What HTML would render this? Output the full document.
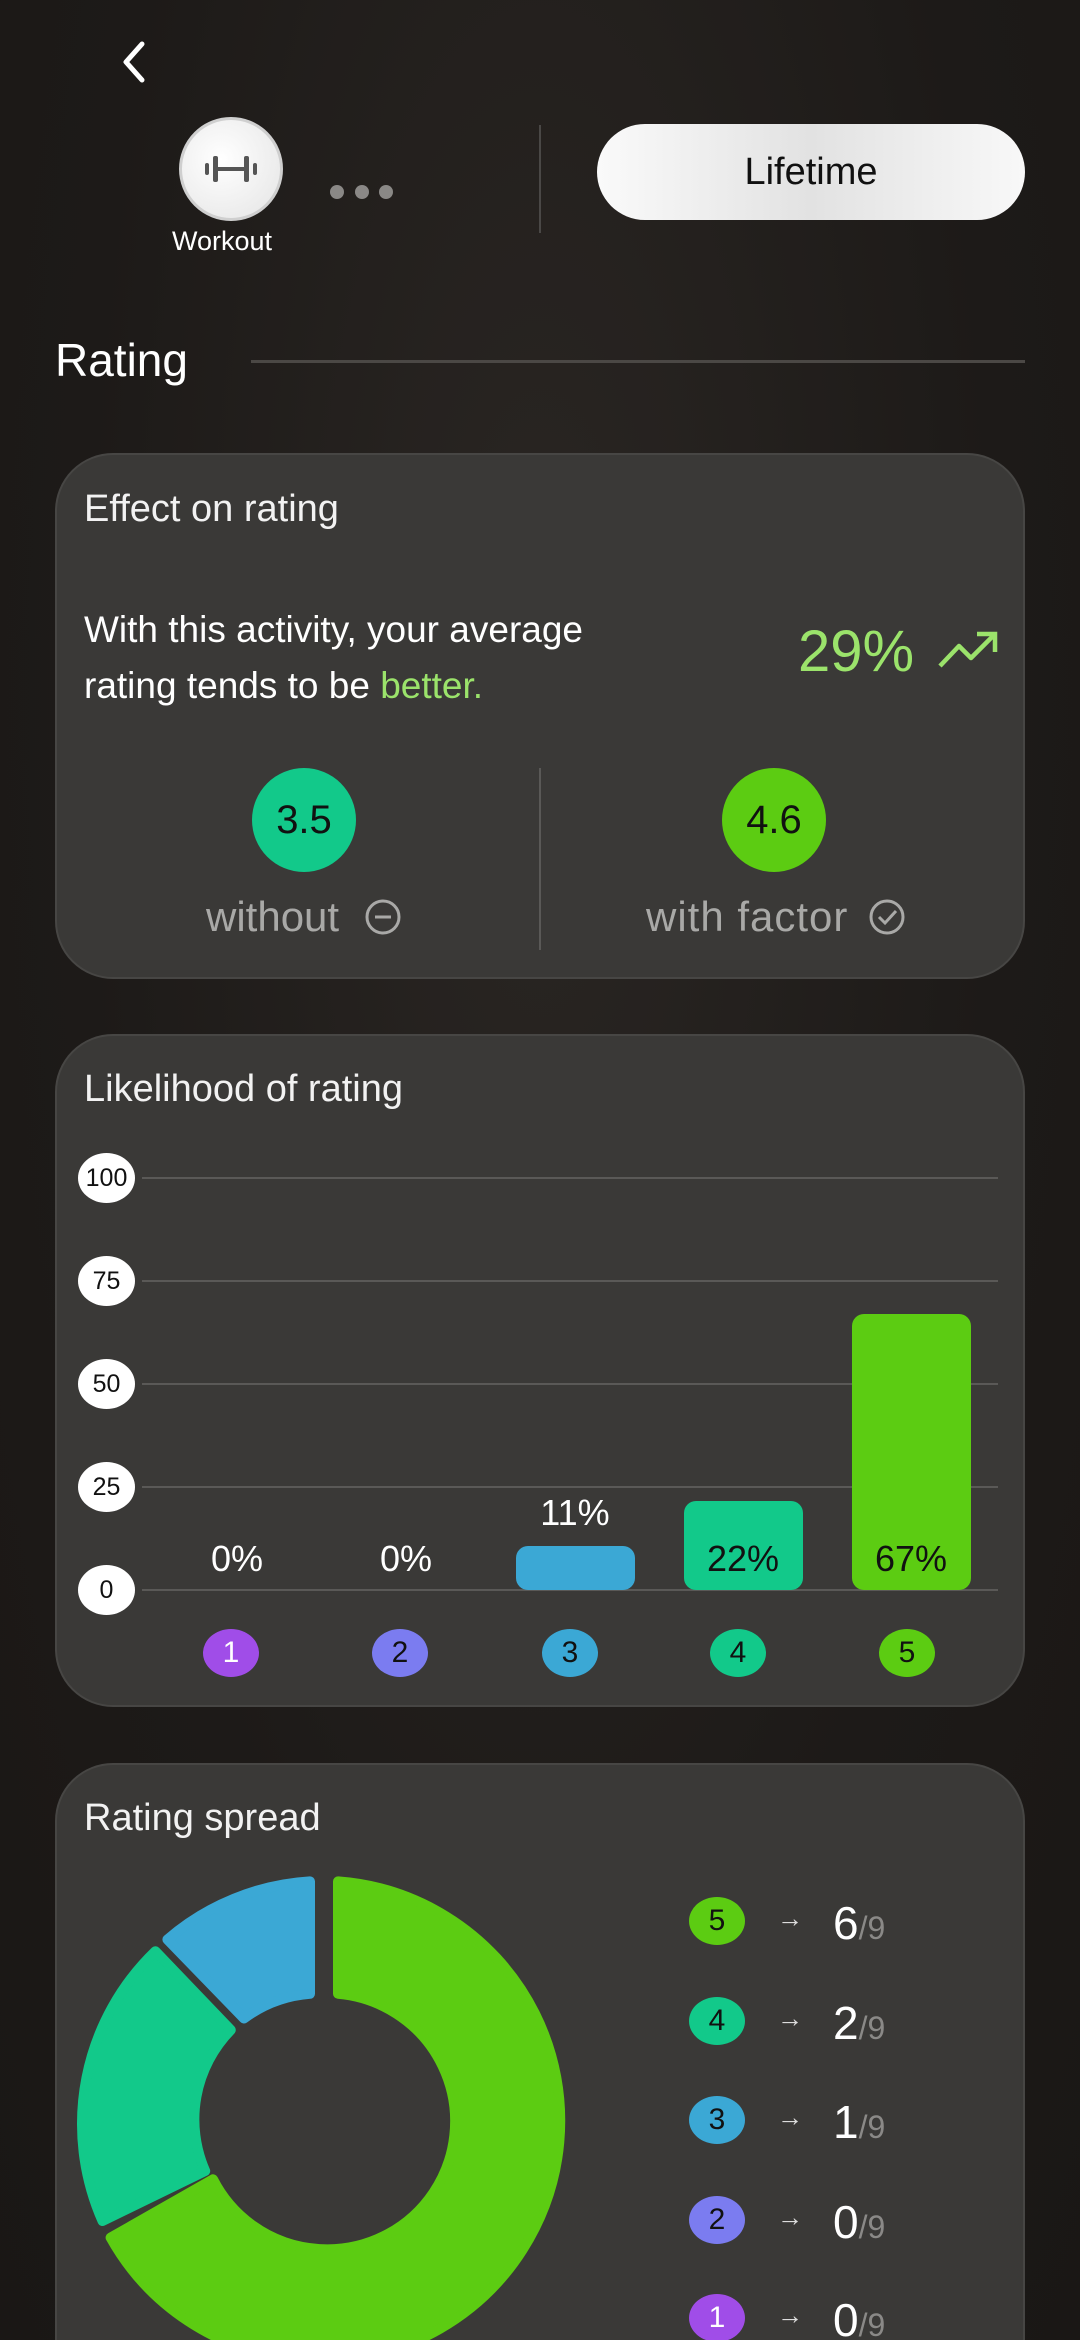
<!DOCTYPE html>
<html style="width:1080px;height:2340px;overflow:hidden"><head><meta charset="utf-8"><style>
*{margin:0;padding:0;box-sizing:border-box}
body{width:1080px;height:2340px;background:#1e1b19;font-family:"Liberation Sans",sans-serif;position:relative;overflow:hidden;color:#fff}
.a{position:absolute}
.card{position:absolute;left:55px;width:970px;background:#3a3937;border:2px solid #474644;border-radius:58px}
.t{position:absolute;white-space:nowrap}
.yl{position:absolute;left:78px;width:57px;height:50px;border-radius:50%;background:#fff;color:#111;font-size:25px;text-align:center;line-height:50px}
.gl{position:absolute;left:142px;width:856px;height:2px;background:#5a5957}
.bc{position:absolute;width:56px;height:48px;border-radius:50%;color:#111;font-size:30px;text-align:center;line-height:48px}
.pct{position:absolute;width:140px;text-align:center;font-size:36px;color:#fff}
</style></head><body>
<div class="a" style="left:0;top:0;width:1080px;height:2340px;background:radial-gradient(ellipse at 50% 30%,#2a2623 0%,#1d1a18 60%,#1a1715 100%)"></div>
<svg class="a" style="left:118px;top:40px" width="32" height="44"><polyline points="24,4 8,22 24,40" fill="none" stroke="#fff" stroke-width="5" stroke-linecap="round" stroke-linejoin="round"/></svg>
<div class="a" style="left:179px;top:117px;width:104px;height:104px;border-radius:50%;background:radial-gradient(circle at 40% 40%,#fff,#e4e4e4);border:3px solid #cfcfcf"></div>
<svg class="a" style="left:203px;top:150px" width="56" height="38"><g fill="#555"><rect x="2" y="13" width="4" height="12" rx="2"/><rect x="10" y="6" width="5" height="26" rx="2"/><rect x="15" y="17" width="26" height="4"/><rect x="41" y="6" width="5" height="26" rx="2"/><rect x="50" y="13" width="4" height="12" rx="2"/></g></svg>
<div class="t" style="left:172px;top:226px;font-size:27px;color:#fff">Workout</div>
<div class="a" style="left:330px;top:185px;width:14px;height:14px;border-radius:50%;background:#8a8886"></div>
<div class="a" style="left:355px;top:185px;width:14px;height:14px;border-radius:50%;background:#8a8886"></div>
<div class="a" style="left:379px;top:185px;width:14px;height:14px;border-radius:50%;background:#8a8886"></div>
<div class="a" style="left:539px;top:125px;width:2px;height:108px;background:#4a4846"></div>
<div class="a" style="left:597px;top:124px;width:428px;height:96px;border-radius:48px;background:linear-gradient(90deg,#fafafa,#e2e2e2 50%,#f8f8f8);color:#111;font-size:38px;text-align:center;line-height:96px">Lifetime</div>
<div class="t" style="left:55px;top:333px;font-size:46px;color:#fff">Rating</div>
<div class="a" style="left:251px;top:360px;width:774px;height:3px;background:#4b4845"></div>

<div class="card" style="top:453px;height:526px"></div>
<div class="t" style="left:84px;top:488px;font-size:38px;color:#f2f2f2">Effect on rating</div>
<div class="t" style="left:84px;top:602px;font-size:37px;line-height:56px;color:#fff">With this activity, your average<br>rating tends to be <span style="color:#9be36b">better.</span></div>
<div class="t" style="left:798px;top:618px;font-size:58px;color:#9be36b">29%</div>
<svg class="a" style="left:937px;top:628px" width="62" height="44"><polyline points="3,38 22,18 34,30 58,6" fill="none" stroke="#9be36b" stroke-width="4.5" stroke-linejoin="round"/><polyline points="40,6 58,6 58,24" fill="none" stroke="#9be36b" stroke-width="4.5"/></svg>
<div class="a" style="left:252px;top:768px;width:104px;height:104px;border-radius:50%;background:#12c98a;color:#111;font-size:40px;text-align:center;line-height:104px">3.5</div>
<div class="a" style="left:722px;top:768px;width:104px;height:104px;border-radius:50%;background:#5ccc12;color:#111;font-size:40px;text-align:center;line-height:104px">4.6</div>
<div class="a" style="left:539px;top:768px;width:2px;height:182px;background:#5a5957"></div>
<div class="t" style="left:206px;top:893px;font-size:42px;color:#a9a9a7">without</div>
<svg class="a" style="left:364px;top:898px" width="38" height="38"><circle cx="19" cy="19" r="16" fill="none" stroke="#a9a9a7" stroke-width="3"/><line x1="11" y1="19" x2="27" y2="19" stroke="#a9a9a7" stroke-width="3"/></svg>
<div class="t" style="left:646px;top:893px;font-size:42px;color:#a9a9a7;letter-spacing:1px">with factor</div>
<svg class="a" style="left:868px;top:898px" width="38" height="38"><circle cx="19" cy="19" r="16" fill="none" stroke="#a9a9a7" stroke-width="3"/><polyline points="11,19 17,25 28,13" fill="none" stroke="#a9a9a7" stroke-width="3"/></svg>

<div class="card" style="top:1034px;height:673px"></div>
<div class="t" style="left:84px;top:1068px;font-size:38px;color:#f2f2f2">Likelihood of rating</div>
<div class="gl" style="top:1177px"></div><div class="gl" style="top:1280px"></div><div class="gl" style="top:1383px"></div><div class="gl" style="top:1486px"></div><div class="gl" style="top:1589px"></div>
<div class="yl" style="top:1153px">100</div><div class="yl" style="top:1256px">75</div><div class="yl" style="top:1359px">50</div><div class="yl" style="top:1462px">25</div><div class="yl" style="top:1565px">0</div>
<div class="a" style="left:516px;top:1546px;width:119px;height:44px;border-radius:12px;background:#3ba8d5"></div>
<div class="a" style="left:684px;top:1501px;width:119px;height:89px;border-radius:12px;background:#12c98a"></div>
<div class="a" style="left:852px;top:1314px;width:119px;height:276px;border-radius:12px;background:#5ccc12"></div>
<div class="pct" style="left:167px;top:1538px">0%</div>
<div class="pct" style="left:336px;top:1538px">0%</div>
<div class="pct" style="left:505px;top:1492px">11%</div>
<div class="pct" style="left:673px;top:1538px;color:#111">22%</div>
<div class="pct" style="left:841px;top:1538px;color:#111">67%</div>
<div class="bc" style="left:203px;top:1629px;background:#a04de8;color:#fff">1</div>
<div class="bc" style="left:372px;top:1629px;background:#7b7cf0">2</div>
<div class="bc" style="left:542px;top:1629px;background:#3ba8d5">3</div>
<div class="bc" style="left:710px;top:1629px;background:#12c98a">4</div>
<div class="bc" style="left:879px;top:1629px;background:#5ccc12">5</div>

<div class="card" style="top:1763px;height:640px"></div>
<div class="t" style="left:84px;top:1797px;font-size:38px;color:#f2f2f2">Rating spread</div>
<svg class="a" style="left:0;top:1800px" width="580" height="540">
<g transform="translate(324,321)" stroke-linejoin="round" stroke-width="10">
<path fill="#5ccc12" stroke="#5ccc12" d="M 14 -239.6 A 240 240 0 1 1 -213.4 116.6 L -111 58.3 A 128 128 0 1 0 14 -127.2 Z"/>
<path fill="#12c98a" stroke="#12c98a" d="M -221.5 100 A 240 240 0 0 1 -168.6 -169.8 L -93.2 -91 A 128 128 0 0 0 -118.8 50 Z"/>
<path fill="#3ba8d5" stroke="#3ba8d5" d="M -156.6 -181.5 A 240 240 0 0 1 -14 -239.6 L -14 -127.2 A 128 128 0 0 0 -80 -102.5 Z"/>
</g></svg>
<div class="bc" style="left:689px;top:1897px;background:#5ccc12">5</div>
<div class="bc" style="left:689px;top:1997px;background:#12c98a">4</div>
<div class="bc" style="left:689px;top:2096px;background:#3ba8d5">3</div>
<div class="bc" style="left:689px;top:2196px;background:#7b7cf0">2</div>
<div class="bc" style="left:689px;top:2294px;background:#a04de8;color:#fff">1</div>
<div class="t" style="left:777px;top:1903px;font-size:26px;color:#ddd">→</div>
<div class="t" style="left:777px;top:2003px;font-size:26px;color:#ddd">→</div>
<div class="t" style="left:777px;top:2102px;font-size:26px;color:#ddd">→</div>
<div class="t" style="left:777px;top:2202px;font-size:26px;color:#ddd">→</div>
<div class="t" style="left:777px;top:2300px;font-size:26px;color:#ddd">→</div>
<div class="t" style="left:833px;top:1896px;font-size:46px;color:#fff">6<span style="font-size:32px;color:#8a8987">/9</span></div>
<div class="t" style="left:833px;top:1996px;font-size:46px;color:#fff">2<span style="font-size:32px;color:#8a8987">/9</span></div>
<div class="t" style="left:833px;top:2095px;font-size:46px;color:#fff">1<span style="font-size:32px;color:#8a8987">/9</span></div>
<div class="t" style="left:833px;top:2195px;font-size:46px;color:#fff">0<span style="font-size:32px;color:#8a8987">/9</span></div>
<div class="t" style="left:833px;top:2293px;font-size:46px;color:#fff">0<span style="font-size:32px;color:#8a8987">/9</span></div>
</body></html>
